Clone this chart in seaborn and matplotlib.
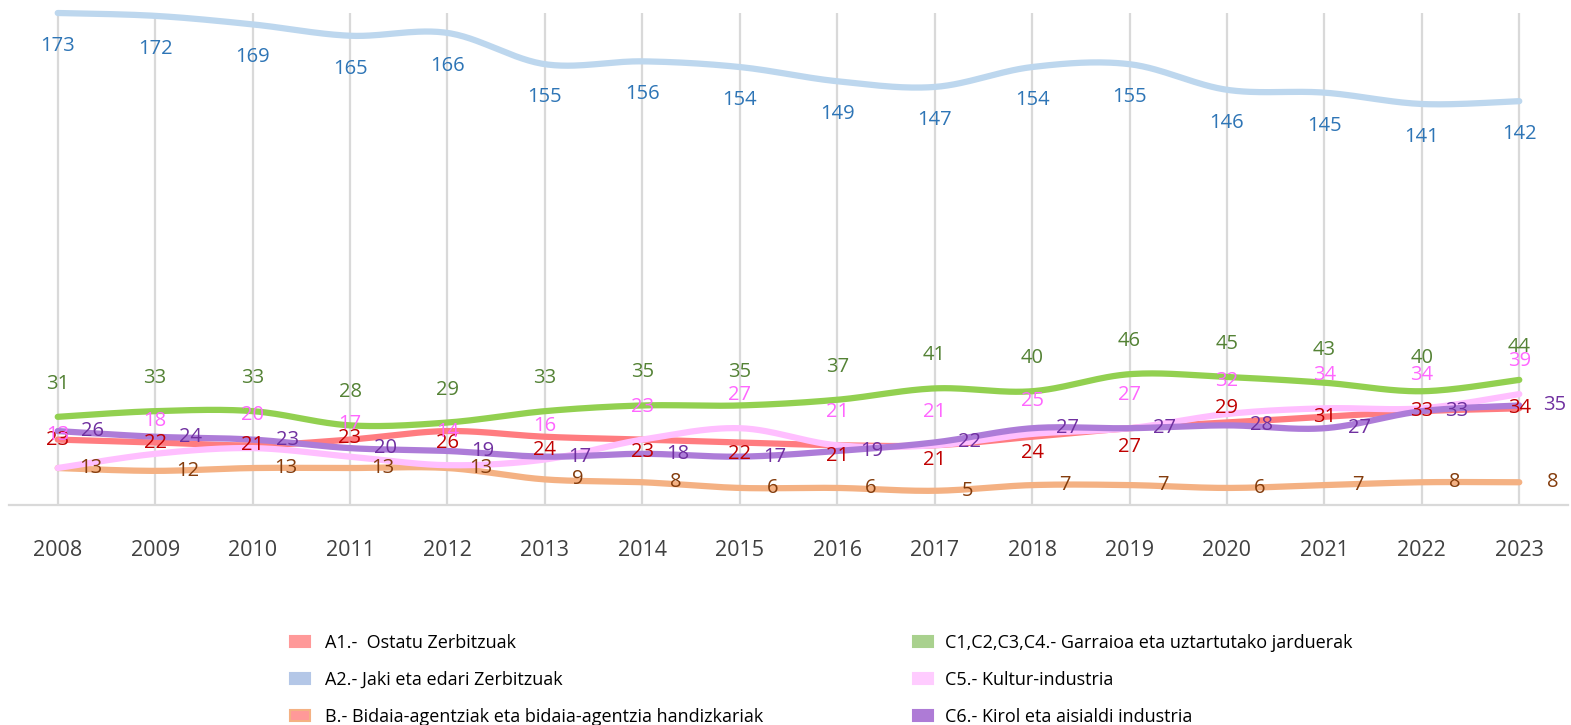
import numpy as np
import pandas as pd
import matplotlib
matplotlib.use("Agg")
import matplotlib.pyplot as plt
import seaborn as sns
from matplotlib.patches import Patch

# ---------------- data ----------------
years = list(range(2008, 2024))
a1_ostatu = [23, 22, 21, 23, 26, 24, 23, 22, 21, 21, 24, 27, 29, 31, 33, 34]
a2_jaki = [173, 172, 169, 165, 166, 155, 156, 154, 149, 147, 154, 155, 146, 145, 141, 142]
b_bidaia = [13, 12, 13, 13, 13, 9, 8, 6, 6, 5, 7, 7, 6, 7, 8, 8]
c14_garraioa = [31, 33, 33, 28, 29, 33, 35, 35, 37, 41, 40, 46, 45, 43, 40, 44]
c5_kultur = [13, 18, 20, 17, 14, 16, 23, 27, 21, 21, 25, 27, 32, 34, 34, 39]
c6_kirol = [26, 24, 23, 20, 19, 17, 18, 17, 19, 22, 27, 27, 28, 27, 33, 35]

series_names = [
    "A1.-  Ostatu Zerbitzuak",
    "A2.- Jaki eta edari Zerbitzuak",
    "B.- Bidaia-agentziak eta bidaia-agentzia handizkariak",
    "C1,C2,C3,C4.- Garraioa eta uztartutako jarduerak",
    "C5.- Kultur-industria",
    "C6.- Kirol eta aisialdi industria",
]
series_values = [a1_ostatu, a2_jaki, b_bidaia, c14_garraioa, c5_kultur, c6_kirol]

# ---------------- styles ----------------
line_colors = ["#FF7C80", "#BDD7EE", "#F4B183", "#92D050", "#FFBFFF", "#AD7CD8"]
label_colors = ["#C00000", "#2E75B6", "#843C0C", "#548235", "#FF66FF", "#7030A0"]
legend_face = ["#FF9999", "#B4C7E7", "#FF9999", "#A9D18E", "#FFCCFF", "#AE7BD6"]
legend_edge = ["#FF9999", "#B4C7E7", "#F4B183", "#A9D18E", "#FFCCFF", "#AE7BD6"]
# label offsets in pixels (dx, dy), dy positive = up
label_dx = [0, 0, 33, 0, 0, 35]
label_dy = [None, -33, 0, 33, 33, 0]
a1_dy = [0, -1, 0, 2, -12, -13, -12, -12, -11, -15, -16, -19, 15, 0, 0, 0]

FONT = ["Open Sans", "DejaVu Sans"]
plt.rcParams["font.family"] = FONT


def smooth(xs, ys, n=30):
    xs = np.asarray(xs, float)
    ys = np.asarray(ys, float)
    P = np.column_stack([xs, ys])
    out = []
    m = len(P)
    for i in range(m - 1):
        p0 = P[max(i - 1, 0)]
        p1 = P[i]
        p2 = P[i + 1]
        p3 = P[min(i + 2, m - 1)]
        c1 = p1 + (p2 - p0) / 6.0
        c2 = p2 - (p3 - p1) / 6.0
        t = np.linspace(0, 1, n, endpoint=(i == m - 2))[:, None]
        seg = ((1 - t) ** 3) * p1 + 3 * ((1 - t) ** 2) * t * c1 + 3 * (1 - t) * t ** 2 * c2 + t ** 3 * p2
        out.append(seg)
    out = np.vstack(out)
    return out[:, 0], out[:, 1]


W, H = 1571, 725
fig = plt.figure(figsize=(W / 100, H / 100), dpi=100)
ax_left, ax_right = 9, 1568
ax_bottom, ax_top = 505, 13
ax = fig.add_axes([ax_left / W, (H - ax_bottom) / H, (ax_right - ax_left) / W, (ax_bottom - ax_top) / H])

ax.set_xlim(2007.5, 2023.5)
ax.set_ylim(0, 173)

for x in years:
    ax.axvline(x, color="#D9D9D9", lw=1.6, zorder=0)

for k, (name, vals) in enumerate(zip(series_names, series_values)):
    sx, sy = smooth(years, vals)
    df = pd.DataFrame({"x": sx, "y": sy})
    sns.lineplot(data=df, x="x", y="y", ax=ax, color=line_colors[k], lw=4.5,
                 sort=False, estimator=None, zorder=2 + k, clip_on=False,
                 solid_capstyle="round")

for k, vals in enumerate(series_values):
    for i, (x, v) in enumerate(zip(years, vals)):
        dy = a1_dy[i] if k == 0 else label_dy[k]
        ax.annotate(str(v), (x, v), xytext=(label_dx[k], dy), textcoords="offset pixels",
                    ha="center", va="center", fontsize=14.5, color=label_colors[k],
                    zorder=20, annotation_clip=False)

for s in ["top", "right", "left"]:
    ax.spines[s].set_visible(False)
ax.spines["bottom"].set_color("#D9D9D9")
ax.spines["bottom"].set_linewidth(1.6)
ax.set_yticks([])
ax.set_xticks(years)
ax.set_xticklabels([str(y) for y in years])
ax.tick_params(axis="x", length=0, pad=25, labelsize=15.5, labelcolor="#404040")
ax.set_xlabel("")
ax.set_ylabel("")

handles = [Patch(facecolor=legend_face[k], edgecolor=legend_edge[k], lw=1.5) for k in range(6)]
common = dict(frameon=False, fontsize=13, handlelength=1.1, handleheight=0.55,
              labelspacing=1.06, borderpad=0, borderaxespad=0,
              labelcolor="#000000")
leg1 = fig.legend(handles[:3], series_names[:3], loc="upper left", handletextpad=0.83,
                  bbox_to_anchor=(290 / W, 1 - 634 / H), **common)
leg2 = fig.legend(handles[3:], series_names[3:], loc="upper left", handletextpad=0.67,
                  bbox_to_anchor=(913 / W, 1 - 634 / H), **common)

fig.savefig("out.png", dpi=100)
